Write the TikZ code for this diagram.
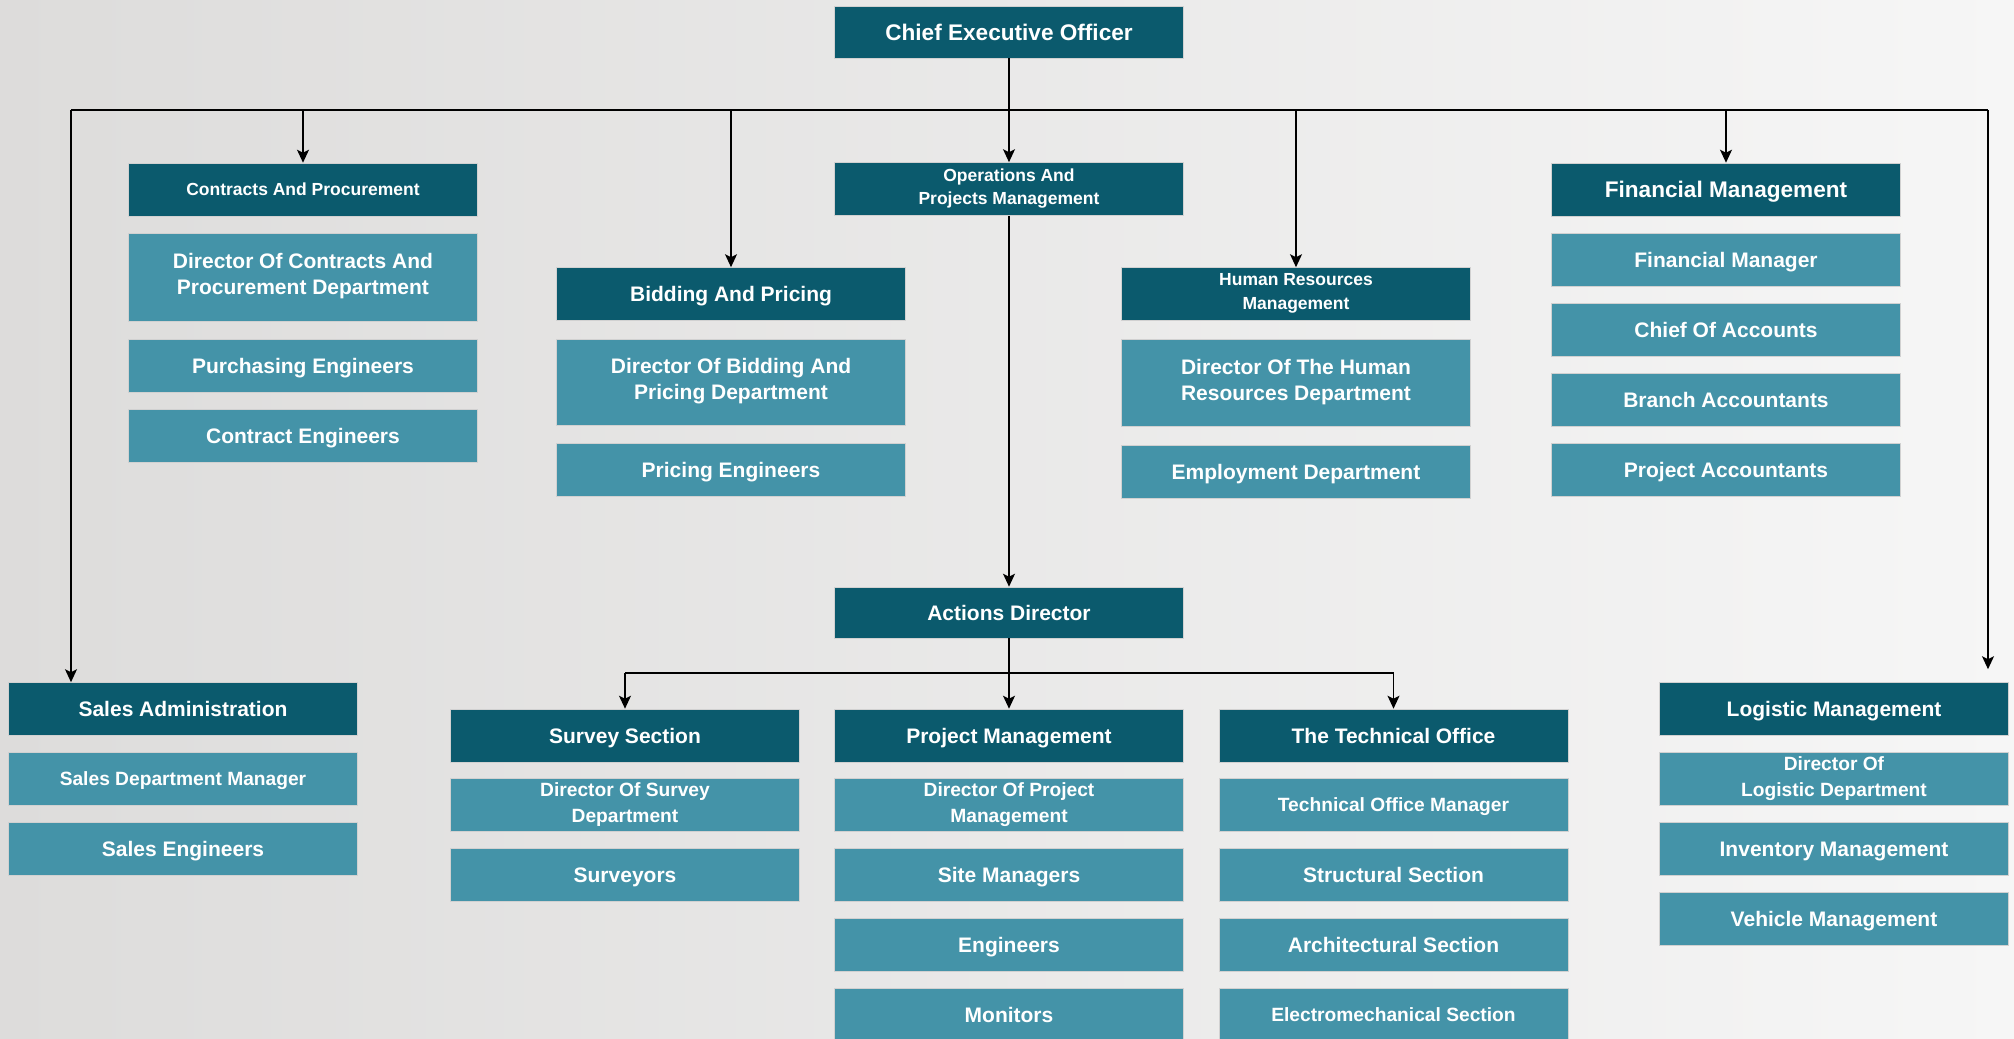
\documentclass[tikz,border=0pt]{standalone}
\usepackage{fontspec}
\setmainfont{Liberation Sans}
\usetikzlibrary{arrows.meta}
\definecolor{headteal}{HTML}{0B5A6D}
\definecolor{unitteal}{HTML}{4493A8}
\definecolor{bgleft}{RGB}{221,220,219}
\definecolor{bgright}{RGB}{246,246,246}
\newcommand{\capstrut}{\rule[-0.28em]{0pt}{1.28em}}
\tikzset{
    head/.style={fill=headteal, draw=black!18, line width=0.6pt, text=white,
        minimum width=349pt, minimum height=53pt, inner sep=0pt, align=center,
        execute at begin node=\capstrut, execute at end node=\capstrut,
        font=\bfseries\fontsize{21}{26}\selectfont},
    unit/.style={head, fill=unitteal},
    bigtext/.style={font=\bfseries\fontsize{22.6}{27}\selectfont},
    smallhead/.style={font=\bfseries\fontsize{17.5}{23.5}\selectfont},
    smalltext/.style={font=\bfseries\fontsize{19.2}{26}\selectfont},
    bus/.style={line width=1.6pt},
    link/.style={bus, -{Stealth[length=13pt,width=12pt,inset=3pt]}}
}
\begin{document}
\begin{tikzpicture}[x=1pt,y=-1pt]
    \shade[left color=bgleft, right color=bgright] (0,0) rectangle (2014,1039);
    \useasboundingbox (0,0) rectangle (2014,1039);
    % top
    \node[head,bigtext,minimum height=52pt] (ceo) at (1009,32) {Chief Executive Officer};
    \node[head,smallhead] (ops) at (1009,189) {Operations And\\Projects Management};
    \node[head,minimum height=51pt] (actions) at (1009,612.5) {Actions Director};
    % contracts
    \node[head,smallhead] (contracts) at (303,189.5) {Contracts And Procurement};
    \node[unit,minimum height=88pt] (dircontracts) at (303,277) {Director Of Contracts And\\Procurement Department};
    \node[unit] (purcheng) at (303,366) {Purchasing Engineers};
    \node[unit] (contreng) at (303,436) {Contract Engineers};
    % bidding
    \node[head] (bidding) at (731,294) {Bidding And Pricing};
    \node[unit,minimum height=86pt] (dirbidding) at (731,382) {Director Of Bidding And\\Pricing Department};
    \node[unit] (pricingeng) at (731,470) {Pricing Engineers};
    % human resources
    \node[head,smallhead] (hr) at (1296,294) {Human Resources\\Management};
    \node[unit,minimum height=87pt] (dirhr) at (1296,382.5) {Director Of The Human\\Resources Department};
    \node[unit] (employment) at (1296,471.5) {Employment Department};
    % financial
    \node[head,bigtext] (finance) at (1726,189.5) {Financial Management};
    \foreach \t [count=\i] in {Financial Manager,Chief Of Accounts,Branch Accountants,Project Accountants}
        \node[unit] (fin\i) at (1726,189.5+70*\i) {\t};
    % sales
    \node[head] (sales) at (183,709) {Sales Administration};
    \node[unit,smalltext] (salesmgr) at (183,779) {Sales Department Manager};
    \node[unit] (saleseng) at (183,849) {Sales Engineers};
    % logistic
    \node[head] (logi) at (1834,709) {Logistic Management};
    \node[unit,smalltext] (dirlogi) at (1834,779) {Director Of\\Logistic Department};
    \node[unit] (inventory) at (1834,849) {Inventory Management};
    \node[unit] (vehicle) at (1834,919) {Vehicle Management};
    % survey
    \node[head] (survey) at (625,735.5) {Survey Section};
    \node[unit,smalltext] (dirsurvey) at (625,805) {Director Of Survey\\Department};
    \node[unit] (surveyors) at (625,875) {Surveyors};
    % project management
    \node[head] (projm) at (1009,735.5) {Project Management};
    \node[unit,smalltext] (dirproj) at (1009,805) {Director Of Project\\Management};
    \foreach \t [count=\i] in {Site Managers,Engineers,Monitors}
        \node[unit] (pm\i) at (1009,805+70*\i) {\t};
    % technical office
    \node[head] (tech) at (1393.5,735.5) {The Technical Office};
    \node[unit,smalltext] (techmgr) at (1393.5,805) {Technical Office Manager};
    \node[unit] (structural) at (1393.5,875) {Structural Section};
    \node[unit] (architectural) at (1393.5,945) {Architectural Section};
    \node[unit,smalltext] (electro) at (1393.5,1015) {Electromechanical Section};
    % connectors
    \coordinate (busL) at (71,110);
    \coordinate (busR) at (1988,110);
    \coordinate (sub) at (1009,673);
    \draw[bus] (busL) -- (busR);
    \draw[link] (ceo.south) -- (ops.north);
    \draw[link] (busL) -- (sales.north -| busL);
    \draw[link] (busR) -- ([yshift=13pt]logi.north -| busR);
    \foreach \n in {contracts,bidding,hr,finance}
        \draw[link] (\n.north |- busL) -- (\n.north);
    \draw[link] (ops.south) -- (actions.north);
    \draw[bus] (survey.north |- sub) -- (tech.north |- sub);
    \draw[link] (actions.south) -- (projm.north);
    \draw[link] (survey.north |- sub) -- (survey.north);
    \draw[link] (tech.north |- sub) -- (tech.north);
\end{tikzpicture}
\end{document}
